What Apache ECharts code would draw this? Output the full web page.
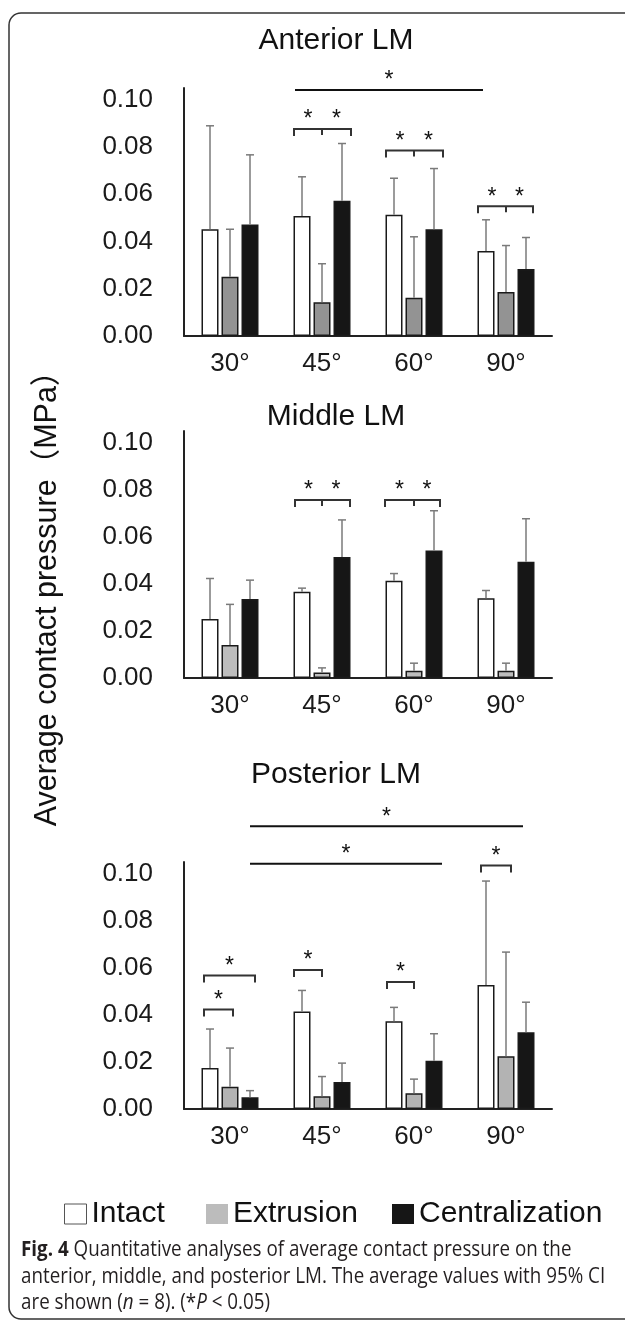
<!DOCTYPE html>
<html lang="en">
<head>
<meta charset="UTF-8">
<title>average contact pressure</title>
<script src="https://cdn.jsdelivr.net/npm/echarts@6/dist/echarts.min.js"></script>
<style>html,body{margin:0;padding:0;background:#fff;}</style>
</head>
<body>
<div id="container" style="width:625px;height:1322px;"></div>
<script>
// categories
var angles = ['30°', '45°', '60°', '90°'];
var groups = ['Intact', 'Extrusion', 'Centralization'];

// Anterior LM: means and upper 95% CI
var antIntact = [0.0452, 0.0508, 0.0513, 0.0360];
var antIntactUp = [0.0890, 0.0674, 0.0668, 0.0492];
var antExtr = [0.0251, 0.0143, 0.0162, 0.0186];
var antExtrUp = [0.0452, 0.0306, 0.0420, 0.0383];
var antCent = [0.0472, 0.0573, 0.0452, 0.0284];
var antCentUp = [0.0767, 0.0815, 0.0709, 0.0417];

// Middle LM
var midIntact = [0.0251, 0.0367, 0.0413, 0.0339];
var midIntactUp = [0.0423, 0.0382, 0.0444, 0.0372];
var midExtr = [0.0140, 0.0023, 0.0031, 0.0031];
var midExtrUp = [0.0313, 0.0043, 0.0063, 0.0063];
var midCent = [0.0336, 0.0514, 0.0542, 0.0494];
var midCentUp = [0.0416, 0.0672, 0.0711, 0.0677];

// Posterior LM
var postIntact = [0.0174, 0.0415, 0.0373, 0.0527];
var postIntactUp = [0.0340, 0.0504, 0.0432, 0.0969];
var postExtr = [0.0095, 0.0054, 0.0067, 0.0224];
var postExtrUp = [0.0259, 0.0138, 0.0127, 0.0667];
var postCent = [0.0050, 0.0115, 0.0205, 0.0326];
var postCentUp = [0.0078, 0.0195, 0.0320, 0.0454];

// significance marks: [fromCat, fromSlot, toCat, toSlot, value, kind]
// kind 0 = plain line, 1 = bracket, 2 = bracket with middle tick
var antMarks = [
	[1, -1.35, 3, -1.15, 0.1042, 0],
	[1, -1.4, 1, 1.45, 0.0876, 2],
	[2, -1.4, 2, 1.45, 0.0785, 2],
	[3, -1.4, 3, 1.35, 0.0549, 2]
];
var midMarks = [
	[1, -1.35, 1, 1.4, 0.0757, 2],
	[2, -1.45, 2, 1.3, 0.0757, 2]
];
var postMarks = [
	[0, 1, 3, 0.85, 0.1202, 0],
	[0, 1, 2, 1.4, 0.1043, 0],
	[3, -1.25, 3, 0.25, 0.1035, 1],
	[0, -1.3, 0, 1.25, 0.0568, 1],
	[0, -1.3, 0, 0.15, 0.0423, 1],
	[1, -1.4, 1, 0, 0.0591, 1],
	[2, -1.35, 2, 0, 0.0540, 1]
];

var FONT = "'Liberation Sans', Arial, sans-serif";
var BAR_W = 17, BAR_GAP = 3, SLOT = BAR_W + BAR_GAP;

var panels = [
	{title: 'Anterior LM', titleY: 41, top: 88, height: 248, gray: '#939393',
	 mean: [antIntact, antExtr, antCent], up: [antIntactUp, antExtrUp, antCentUp], marks: antMarks},
	{title: 'Middle LM', titleY: 417, top: 431, height: 247, gray: '#bdbdbd',
	 mean: [midIntact, midExtr, midCent], up: [midIntactUp, midExtrUp, midCentUp], marks: midMarks},
	{title: 'Posterior LM', titleY: 775, top: 862, height: 247, gray: '#b3b3b3',
	 mean: [postIntact, postExtr, postCent], up: [postIntactUp, postExtrUp, postCentUp], marks: postMarks}
];

var dom = document.getElementById('container');
var myChart = echarts.init(dom, null, {renderer: 'canvas'});

var grids = [], xAxes = [], yAxes = [], series = [];
var graphics = [];

function errorRender(g) {
	return function (params, api) {
		var b = api.coord([api.value(0), api.value(1)]);
		var t = api.coord([api.value(0), api.value(2)]);
		var x = b[0] + (g - 1) * SLOT;
		var st = {stroke: '#7a7a7a', lineWidth: 1.5};
		return {type: 'group', children: [
			{type: 'line', shape: {x1: x, y1: b[1], x2: x, y2: t[1]}, style: st},
			{type: 'line', shape: {x1: x - 4, y1: t[1], x2: x + 4, y2: t[1]}, style: st}
		]};
	};
}

function star(x, y) {
	return {type: 'text', x: x, y: y - 9, style: {text: '*', font: '23px ' + FONT, fill: '#111', align: 'center', verticalAlign: 'middle'}};
}

function markRender(params, api) {
	var y = api.coord([0, api.value(4)])[1];
	var ca = api.coord([api.value(0), 0])[0];
	var cb = api.coord([api.value(2), 0])[0];
	var xa = ca + api.value(1) * SLOT;
	var xb = cb + api.value(3) * SLOT;
	var kind = api.value(5);
	var kids = [];
	if (kind === 0) {
		kids.push({type: 'line', shape: {x1: xa, y1: y, x2: xb, y2: y}, style: {stroke: '#111', lineWidth: 2}});
		kids.push(star((xa + xb) / 2, y));
	} else {
		var st = {stroke: '#333', lineWidth: 2, fill: null};
		kids.push({type: 'polyline', shape: {points: [[xa, y + 7], [xa, y], [xb, y], [xb, y + 7]]}, style: st});
		if (kind === 2) {
			kids.push({type: 'line', shape: {x1: ca, y1: y, x2: ca, y2: y + 6}, style: st});
			kids.push(star((xa + ca) / 2, y));
			kids.push(star((ca + xb) / 2, y));
		} else {
			kids.push(star((xa + xb) / 2, y));
		}
	}
	return {type: 'group', children: kids};
}

panels.forEach(function (p, i) {
	grids.push({left: 184, width: 368, top: p.top, height: p.height});
	xAxes.push({
		type: 'category', gridIndex: i, data: angles,
		axisLine: {lineStyle: {color: '#222', width: 2}},
		axisTick: {show: false},
		axisLabel: {fontSize: 26, fontFamily: FONT, color: '#1a1a1a', margin: 15}
	});
	yAxes.push({
		type: 'value', gridIndex: i, min: 0, max: 0.105, interval: 0.02,
		splitLine: {show: false},
		axisLine: {show: true, lineStyle: {color: '#222', width: 2}},
		axisTick: {show: false},
		axisLabel: {
			fontSize: 26, fontFamily: FONT, color: '#1a1a1a', margin: 31,
			formatter: function (v) {
				var k = v / 0.02;
				return Math.abs(k - Math.round(k)) < 1e-6 ? v.toFixed(2) : '';
			}
		}
	});
	var fills = ['#ffffff', p.gray, '#161616'];
	groups.forEach(function (name, g) {
		series.push({
			type: 'bar', name: name, xAxisIndex: i, yAxisIndex: i,
			data: p.mean[g], barWidth: BAR_W, barGap: (BAR_GAP / BAR_W * 100) + '%',
			itemStyle: {color: fills[g], borderColor: '#1a1a1a', borderWidth: 1.5},
			emphasis: {disabled: true}, z: 2
		});
	});
	groups.forEach(function (name, g) {
		series.push({
			type: 'custom', xAxisIndex: i, yAxisIndex: i, clip: false, z: 3,
			data: p.mean[g].map(function (m, k) { return [k, m, p.up[g][k]]; }),
			encode: {x: 0, y: [1, 2]},
			renderItem: errorRender(g), silent: true
		});
	});
	series.push({
		type: 'custom', xAxisIndex: i, yAxisIndex: i, clip: false, z: 4,
		data: p.marks, encode: {x: 0, y: 4},
		renderItem: markRender, silent: true
	});
	graphics.push({type: 'text', x: 336, y: p.titleY,
		style: {text: p.title, font: '30px ' + FONT, fill: '#111', align: 'center', verticalAlign: 'middle'}});
});

// frame and axis title
graphics.push({type: 'rect', shape: {x: 9, y: 13, width: 660, height: 1306, r: 12},
	style: {fill: null, stroke: '#333', lineWidth: 1.5}, z: -1});
graphics.push({type: 'text', x: 48, y: 591, rotation: Math.PI / 2,
	style: {text: 'Average contact pressure（MPa）', font: "30.5px 'Liberation Sans', 'Noto Sans CJK SC', sans-serif",
		fill: '#111', align: 'center', verticalAlign: 'middle'}});

// caption
var capRich = {
	b: {fontFamily: "'Open Sans', sans-serif", fontSize: 21, fontWeight: 'bold', fill: '#231f20'},
	r: {fontFamily: "'Open Sans', sans-serif", fontSize: 21, fill: '#231f20'},
	i: {fontFamily: "'Open Sans', sans-serif", fontSize: 21, fontStyle: 'italic', fill: '#231f20'}
};
var capLines = [
	'{b|Fig. 4}{r| Quantitative analyses of average contact pressure on the}',
	'{r|anterior, middle, and posterior LM. The average values with 95% CI}',
	'{r|are shown (}{i|n}{r| = 8). (*}{i|P}{r| < 0.05)}'
];
capLines.forEach(function (t, k) {
	graphics.push({type: 'text', x: 21, y: 1250 + k * 26.7, scaleX: 0.895,
		style: {text: t, rich: capRich, verticalAlign: 'middle'}});
});

var legendBase = {
	icon: 'rect', itemWidth: 22, itemHeight: 20, top: 1199, padding: 0, selectedMode: false,
	textStyle: {fontSize: 30, fontFamily: FONT, color: '#111'}
};
var legends = [
	{left: 64, data: [{name: 'Intact', itemStyle: {color: '#fff', borderColor: '#555', borderWidth: 1}}]},
	{left: 206, data: [{name: 'Extrusion', itemStyle: {color: '#bcbcbc', borderWidth: 0}}]},
	{left: 392, data: [{name: 'Centralization', itemStyle: {color: '#161616', borderWidth: 0}}]}
].map(function (l) { return Object.assign({}, legendBase, l); });

var option = {
	animation: false,
	backgroundColor: '#fff',
	grid: grids,
	xAxis: xAxes,
	yAxis: yAxes,
	legend: legends,
	series: series,
	graphic: {elements: graphics}
};

myChart.setOption(option);
</script>
</body>
</html>
